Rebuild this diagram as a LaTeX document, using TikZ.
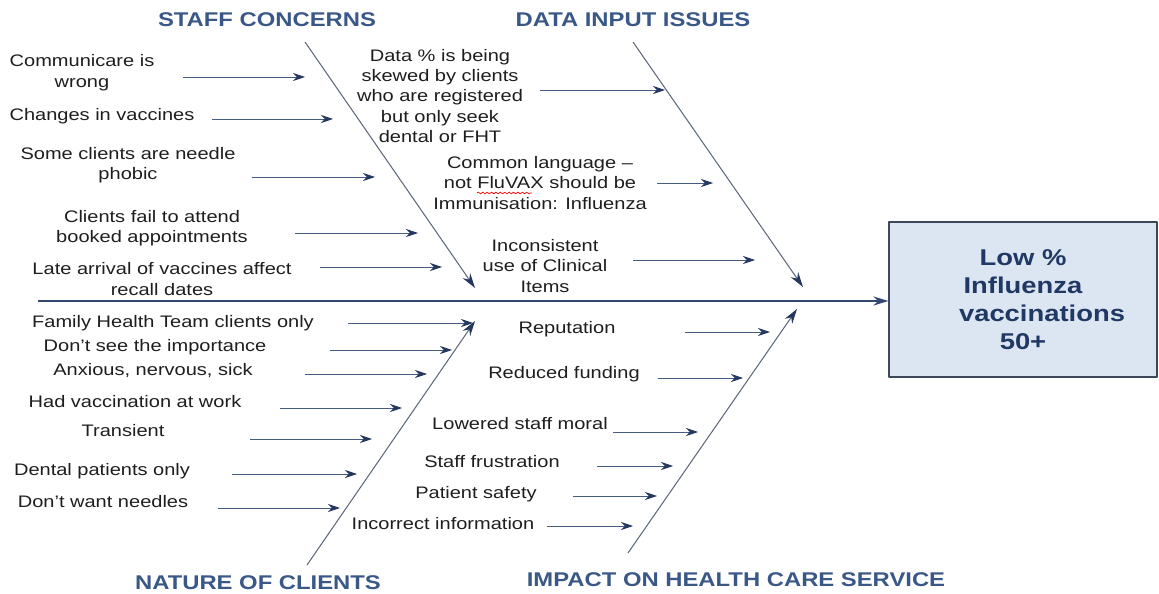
\documentclass[tikz,border=0pt]{standalone}
\usepackage{fontspec}
\setmainfont{Liberation Sans}[FakeStretch=1.2]
\usetikzlibrary{arrows.meta,decorations.pathmorphing}
\definecolor{ink}{RGB}{30,30,30}
\definecolor{head}{RGB}{58,88,135}
\definecolor{spine}{RGB}{48,72,112}
\definecolor{bone}{RGB}{95,105,125}
\definecolor{twig}{RGB}{70,92,128}
\definecolor{tip}{RGB}{35,55,95}
\definecolor{boxfill}{RGB}{220,230,242}
\definecolor{boxline}{RGB}{60,72,90}
\definecolor{effect}{RGB}{32,56,100}
\tikzset{
  cause/.style={align=center,text=ink,inner sep=0pt},
  heading/.style={text=head,font=\fontsize{11.3}{13}\selectfont\bfseries,inner sep=0pt},
  twig/.style={draw=twig,line width=.5pt,-{Stealth[length=2.4mm,width=1.6mm,color=tip]}},
  bone/.style={draw=bone,line width=.6pt,-{Stealth[length=3mm,width=1.8mm,color=tip]}},
}
\begin{document}
\begin{tikzpicture}[x=.02cm,y=-.02cm,line join=round,font=\fontsize{9.5}{11.6}\selectfont]
\useasboundingbox (0,0) rectangle (1159,594);
% effect box and spine
\node[draw=boxline,fill=boxfill,line width=.7pt,minimum width=5.36cm,minimum height=3.1cm,
  text=effect,font=\fontsize{13}{16}\selectfont\bfseries,align=center] (low) at (1023,299.5)
  {Low \%\\Influenza\\\ \ \ \ \ vaccinations\\50+};
\path (38,301) coordinate (tail);
\draw[draw=spine,line width=1.3pt,-{Stealth[length=3mm,width=1.8mm]}] (tail) -- (tail-|low.west);
% the four bones
\path
(305,42) coordinate (sc) (475,288) coordinate (sc tip)
(633,42) coordinate (di) (803,287) coordinate (di tip)
(307,565) coordinate (nc) (475,321) coordinate (nc tip)
(628,553) coordinate (ih) (797,309) coordinate (ih tip)
;
\foreach\b in {sc,di,nc,ih}
\draw[bone] (\b) -- (\b\space tip);
\node[heading] (staff) at (267,20) {STAFF CONCERNS};
\node[heading] (data) at (633,20) {DATA INPUT ISSUES};
\node[heading] (nature) at (258,583) {NATURE OF CLIENTS};
\node[heading] (impact) at (736,580) {IMPACT ON HEALTH CARE SERVICE};
% staff concerns
\foreach\i/\x/\y/\t/\xa/\xb/\ya in {
1/82/72.5/{Communicare  is\\wrong}/183/305/77,
2/102/116/{Changes  in vaccines}/212/333/119,
3/128/165/{Some  clients  are  needle\\phobic}/252/375/177,
4/152/228/{Clients  fail to  attend\\booked  appointments}/295/418/233,
5/162/279/{Late  arrival  of vaccines  affect\\recall dates}/320/442/267}
{
\node[cause] (s\i) at (\x,\y) {\t};
\path (\xa,\ya) coordinate (s\i a) (\xb,\ya) coordinate (s\i b);
\draw[twig] (s\i a) -- (s\i b);
}
% data input issues
\foreach\i/\x/\y/\t/\xa/\xb/\ya in {
1/440/96/{Data \% is being\\skewed  by clients\\who are registered\\but only  seek\\dental  or  FHT}/540/665/90,
2/540/183/{Common  language –\\not  FluVAX  should  be\\Immunisation:  Influenza}/657/713/183,
3/545/266/{Inconsistent\\use  of Clinical\\Items}/633/755/260}
{
\node[cause] (d\i) at (\x,\y) {\t};
\path (\xa,\ya) coordinate (d\i a) (\xb,\ya) coordinate (d\i b);
\draw[twig] (d\i a) -- (d\i b);
}
% spell-check wave under FluVAX
\draw[red,line width=.4pt,decorate,decoration={snake,amplitude=.5pt,segment length=2.5pt}]
(477,193) -- (532,193);
% nature of clients
\foreach\i/\x/\y/\t/\xa/\xb/\ya in {
1/173/323/{Family  Health  Team  clients  only}/348/473/323,
2/155/347/{Don't  see  the  importance}/330/452/350,
3/153/371/{Anxious,  nervous,  sick}/305/427/374,
4/135/402/{Had  vaccination  at work}/280/402/408,
5/123/431/{Transient}/250/372/439,
6/102/471/{Dental  patients  only}/232/357/474,
7/103/502/{Don't  want  needles}/218/340/508}
{
\node[cause] (n\i) at (\x,\y) {\t};
\path (\xa,\ya) coordinate (n\i a) (\xb,\ya) coordinate (n\i b);
\draw[twig] (n\i a) -- (n\i b);
}
% impact on health care service
\foreach\i/\x/\y/\t/\xa/\xb/\ya in {
1/567/329/{Reputation}/685/770/332,
2/564/374/{Reduced  funding}/658/743/378,
3/520/424/{Lowered  staff moral}/613/698/432,
4/492/462/{Staff frustration}/597/673/466,
5/476/494/{Patient  safety}/573/657/496,
6/443/524/{Incorrect  information}/547/633/526}
{
\node[cause] (i\i) at (\x,\y) {\t};
\path (\xa,\ya) coordinate (i\i a) (\xb,\ya) coordinate (i\i b);
\draw[twig] (i\i a) -- (i\i b);
}
\end{tikzpicture}
\end{document}
